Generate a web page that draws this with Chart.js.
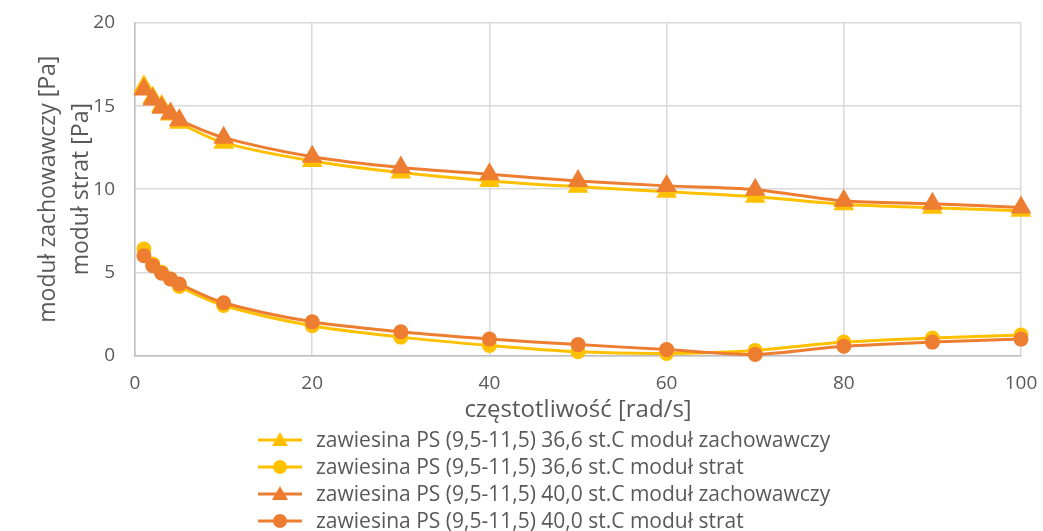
<!DOCTYPE html>
<html>
<head>
<meta charset="utf-8">
<script src="https://cdn.jsdelivr.net/npm/chart.js@4.4.1/dist/chart.umd.min.js"></script>
<style>
html,body{margin:0;padding:0;background:#fff;}
#wrap{position:relative;width:1043px;height:531px;}
#c{position:absolute;left:0;top:0;}
#legend{position:absolute;left:258px;top:426px;font-family:"Open Sans",sans-serif;font-size:21px;color:#595959;}
.li{height:27px;line-height:27px;display:flex;align-items:center;white-space:nowrap;}
.li svg{margin-right:14px;}
</style>
</head>
<body>
<div id="wrap">
<canvas id="c" width="1043" height="531"></canvas>
<div id="legend"></div>
</div>
<script>
const frequency = [1, 2, 3, 4, 5, 10, 20, 30, 40, 50, 60, 70, 80, 90, 100];
const storage366 = [16.2, 15.5, 15.0, 14.5, 14.0, 12.8, 11.7, 11.0, 10.5, 10.15, 9.85, 9.55, 9.1, 8.88, 8.7];
const loss366 = [6.4, 5.5, 5.0, 4.6, 4.15, 3.0, 1.78, 1.1, 0.6, 0.22, 0.12, 0.3, 0.8, 1.05, 1.22];
const storage400 = [16.0, 15.4, 14.9, 14.55, 14.15, 13.1, 11.95, 11.3, 10.9, 10.5, 10.2, 9.97, 9.3, 9.12, 8.9];
const loss400 = [6.0, 5.4, 4.95, 4.6, 4.3, 3.17, 2.02, 1.42, 0.98, 0.65, 0.35, 0.06, 0.55, 0.8, 0.98];
const seriesLabels = [
  "zawiesina PS (9,5-11,5) 36,6 st.C moduł zachowawczy",
  "zawiesina PS (9,5-11,5) 36,6 st.C moduł strat",
  "zawiesina PS (9,5-11,5) 40,0 st.C moduł zachowawczy",
  "zawiesina PS (9,5-11,5) 40,0 st.C moduł strat"
];
const xTitle = "częstotliwość [rad/s]";
const yTitle = ["moduł zachowawczy [Pa]", "moduł strat [Pa]"];

const YEL = "#FFC000", ORA = "#ED7D31";
const pts = arr => arr.map((v, i) => ({x: frequency[i], y: v}));
function ds(label, data, color, shape, order) {
  return {
    label, data: pts(data), borderColor: color, backgroundColor: color,
    borderWidth: 3, pointStyle: shape, pointRadius: shape === 'triangle' ? 12 : 7.5,
    pointBorderWidth: 0, pointHoverRadius: shape === 'triangle' ? 12 : 7.5,
    tension: 0.3, order, clip: false
  };
}
const datasets = [
  ds(seriesLabels[0], storage366, YEL, 'triangle', 3),
  ds(seriesLabels[1], loss366, YEL, 'circle', 2),
  ds(seriesLabels[2], storage400, ORA, 'triangle', 1),
  ds(seriesLabels[3], loss400, ORA, 'circle', 0)
];

const FONT = "'Open Sans', sans-serif";
new Chart(document.getElementById('c'), {
  type: 'line',
  data: {datasets},
  options: {
    responsive: false, animation: false,
    layout: {autoPadding: false, padding: {left: 32, right: 22, top: 23, bottom: 106}},
    plugins: {legend: {display: false}, tooltip: {enabled: false}},
    scales: {
      x: {
        type: 'linear', min: 0, max: 100,
        afterFit: s => { s.paddingRight = 18; s.paddingLeft = 10; },
        ticks: {stepSize: 20, color: '#595959', font: {family: FONT, size: 19}, padding: 17},
        grid: {color: '#d9d9d9', lineWidth: 1.5, drawTicks: false},
        border: {color: '#bfbfbf', width: 1.5},
        title: {display: true, text: xTitle, color: '#595959', font: {family: FONT, size: 24}, padding: {top: -16, bottom: 0}}
      },
      y: {
        min: 0, max: 20,
        afterFit: s => { s.paddingTop = 12; s.paddingBottom = 12; },
        ticks: {stepSize: 5, color: '#595959', font: {family: FONT, size: 19}, padding: 20},
        grid: {color: '#d9d9d9', lineWidth: 1.5, drawTicks: false},
        border: {color: '#bfbfbf', width: 1.5},
        title: {display: true, text: yTitle, color: '#595959', font: {family: FONT, size: 23, lineHeight: 1.42}, padding: {top: 0, bottom: -24}}
      }
    }
  }
});

// HTML legend built from the series data
const legend = document.getElementById('legend');
datasets.forEach(d => {
  const row = document.createElement('div'); row.className = 'li';
  const ns = 'http://www.w3.org/2000/svg';
  const svg = document.createElementNS(ns, 'svg');
  svg.setAttribute('width', '44'); svg.setAttribute('height', '20');
  const line = document.createElementNS(ns, 'line');
  line.setAttribute('x1', 0); line.setAttribute('x2', 44); line.setAttribute('y1', 10); line.setAttribute('y2', 10);
  line.setAttribute('stroke', d.borderColor); line.setAttribute('stroke-width', 3);
  svg.appendChild(line);
  let m;
  if (d.pointStyle === 'triangle') {
    m = document.createElementNS(ns, 'polygon');
    m.setAttribute('points', '22,2 30,16 14,16');
  } else {
    m = document.createElementNS(ns, 'circle');
    m.setAttribute('cx', 22); m.setAttribute('cy', 10); m.setAttribute('r', 7);
  }
  m.setAttribute('fill', d.backgroundColor);
  svg.appendChild(m);
  row.appendChild(svg);
  const t = document.createElement('span'); t.textContent = d.label;
  row.appendChild(t);
  legend.appendChild(row);
});
</script>
</body>
</html>
